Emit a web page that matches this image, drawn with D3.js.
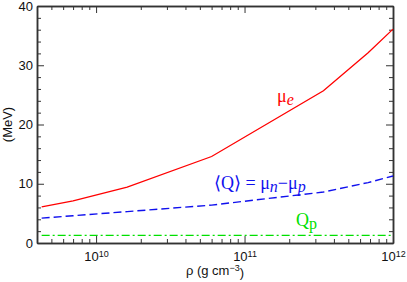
<!DOCTYPE html>
<html>
<head>
<meta charset="utf-8">
<script src="https://cdn.jsdelivr.net/npm/d3@7"></script>
<style>
  body { margin: 0; background: #fff; }
  .axis path, .axis line { stroke: #333; }
  .axis text { font-family: "Liberation Sans", Arial, sans-serif; font-size: 13px; fill: #111; }
</style>
</head>
<body>
<div id="chart"></div>
<script>
// density (g cm^-3) and energies (MeV)
var rho = [4.3e9, 7e9, 1.62e10, 6.0e10, 3.4e11, 6.8e11, 1e12];
var muE = [6.1, 7.1, 9.45, 14.6, 25.7, 32.1, 36.1];
var meanQ = [4.2, 4.6, 5.3, 6.4, 8.6, 10.2, 11.3];
var qP = [1.29, 1.29, 1.29, 1.29, 1.29, 1.29, 1.29];
var xMajor = [1e10, 1e11, 1e12];
var yMajor = [0, 10, 20, 30, 40];

var width = 407,
    height = 282,
    margin = {left: 37, right: 14, top: 6, bottom: 39},
    w = width - margin.left - margin.right,
    h = height - margin.top - margin.bottom;

var svg = d3.select("#chart").append("svg")
    .attr("width", width)
    .attr("height", height);
var chart = svg.append("g")
    .attr("transform", "translate(" + margin.left + "," + margin.top + ")");

var x = d3.scaleLog().domain([4e9, 1e12]).range([0, w]),
    y = d3.scaleLinear().domain([0, 40]).range([h, 0]);

// minor ticks: 2..9 x each decade, every 2 MeV
var xMinor = x.ticks().filter(function (d) { return xMajor.indexOf(d) < 0; });
var yMinor = d3.range(0, 41, 2).filter(function (d) { return d % 10 != 0; });

function supLabel(sel) {
  sel.each(function (d) {
    var t = d3.select(this).text(null);
    t.append("tspan").text("10");
    t.append("tspan").attr("dy", "-0.45em").attr("font-size", "9px").text(Math.round(Math.log10(d)));
  });
}

// bottom
var xb = chart.append("g").attr("class", "axis").attr("transform", "translate(0," + h + ")");
xb.call(d3.axisBottom(x).tickValues(xMajor).tickSizeInner(-7).tickSizeOuter(0).tickPadding(9));
xb.selectAll(".tick text").call(supLabel);
chart.append("g").attr("class", "axis").attr("transform", "translate(0," + h + ")")
  .call(d3.axisBottom(x).tickValues(xMinor).tickSizeInner(-4).tickSizeOuter(0).tickFormat(""));
// top
chart.append("g").attr("class", "axis")
  .call(d3.axisTop(x).tickValues(xMajor).tickSizeInner(-7).tickSizeOuter(0).tickFormat(""));
chart.append("g").attr("class", "axis")
  .call(d3.axisTop(x).tickValues(xMinor).tickSizeInner(-4).tickSizeOuter(0).tickFormat(""));
// left
chart.append("g").attr("class", "axis")
  .call(d3.axisLeft(y).tickValues(yMajor).tickSizeInner(-7).tickSizeOuter(0).tickPadding(4));
chart.append("g").attr("class", "axis")
  .call(d3.axisLeft(y).tickValues(yMinor).tickSizeInner(-4).tickSizeOuter(0).tickFormat(""));
// right
chart.append("g").attr("class", "axis").attr("transform", "translate(" + w + ",0)")
  .call(d3.axisRight(y).tickValues(yMajor).tickSizeInner(-7).tickSizeOuter(0).tickFormat(""));
chart.append("g").attr("class", "axis").attr("transform", "translate(" + w + ",0)")
  .call(d3.axisRight(y).tickValues(yMinor).tickSizeInner(-4).tickSizeOuter(0).tickFormat(""));

chart.selectAll(".axis .domain").attr("stroke-width", 1.5);
chart.selectAll(".axis .tick line").attr("stroke-width", 1);

// curves
function line(vals) {
  return d3.line()
    .x(function (d, i) { return x(rho[i]); })
    .y(function (d) { return y(d); })(vals);
}
chart.append("path").attr("d", line(muE))
  .attr("fill", "none").attr("stroke", "#ff0000").attr("stroke-width", 1.3);
chart.append("path").attr("d", line(meanQ))
  .attr("fill", "none").attr("stroke", "#1010ee").attr("stroke-width", 1.4)
  .attr("stroke-dasharray", "8,4");
chart.append("path").attr("d", line(qP))
  .attr("fill", "none").attr("stroke", "#00e000").attr("stroke-width", 1.4)
  .attr("stroke-dasharray", "8,3,2,3");

// curve labels
var serif = "Liberation Serif, Times New Roman, serif";
var lab1 = svg.append("text").attr("x", 277).attr("y", 102)
  .attr("font-family", serif).attr("font-size", "18px").attr("fill", "#ff0000");
lab1.append("tspan").text("μ");
lab1.append("tspan").attr("font-style", "italic").attr("dy", 3).attr("font-size", "16px").text("e");

var lab2 = svg.append("text").attr("x", 214).attr("y", 189)
  .attr("font-family", serif).attr("font-size", "18px").attr("fill", "#1010ee");
lab2.append("tspan").text("⟨Q⟩ = μ");
lab2.append("tspan").attr("font-style", "italic").attr("dy", 3).attr("font-size", "16px").text("n");
lab2.append("tspan").attr("dy", -3).text("−μ");
lab2.append("tspan").attr("font-style", "italic").attr("dy", 3).attr("font-size", "16px").text("p");

var lab3 = svg.append("text").attr("x", 296).attr("y", 226)
  .attr("font-family", serif).attr("font-size", "18px").attr("fill", "#00e000");
lab3.append("tspan").text("Q");
lab3.append("tspan").attr("dy", 3).attr("font-size", "16px").text("p");

// axis titles
var xt = svg.append("text").attr("x", margin.left + w / 2).attr("y", 275)
  .attr("text-anchor", "middle")
  .attr("font-family", "Liberation Sans, Arial, sans-serif").attr("font-size", "13px").attr("fill", "#111");
xt.append("tspan").text("ρ (g cm");
xt.append("tspan").attr("dy", "-0.45em").attr("font-size", "9px").text("−3");
xt.append("tspan").attr("dy", "0.45em").text(")");

svg.append("text")
  .attr("transform", "translate(12," + (margin.top + h / 2) + ") rotate(-90)")
  .attr("text-anchor", "middle")
  .attr("font-family", "Liberation Sans, Arial, sans-serif").attr("font-size", "13px").attr("fill", "#111")
  .text("(MeV)");
</script>
</body>
</html>
